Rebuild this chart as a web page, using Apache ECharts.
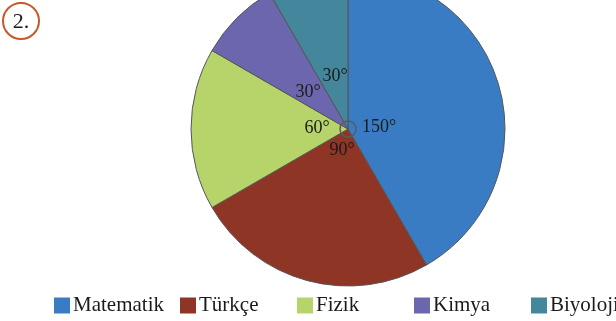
<!DOCTYPE html>
<html><head><meta charset="utf-8">
<script src="https://cdn.jsdelivr.net/npm/echarts@6/dist/echarts.min.js"></script>
<style>html,body{margin:0;padding:0;background:#fff}#c{width:616px;height:321px}</style>
</head><body><div id="c"></div>
<script>
const categories = ["Matematik", "Türkçe", "Fizik", "Kimya", "Biyoloji"];
const degrees = [150, 90, 60, 30, 30];
const degreeLabels = ["150°", "90°", "60°", "30°", "30°"];
const colors = ["#3a7cc4", "#8f3526", "#b7d46a", "#6c66ae", "#44869c"];

const font = "'Liberation Serif', 'DejaVu Serif', serif";
const cx = 348, cy = 129, R = 157;
// label anchor positions (pixel) for angle labels
const labelPos = [[379,127],[342,150],[317,128],[308,92],[335,76]];
const legendLeft = [54, 180, 297, 414, 531];

const chart = echarts.init(document.getElementById('c'));
const graphics = [
  {type:'circle', shape:{cx:21, cy:21, r:18}, style:{fill:'none', stroke:'#c55a28', lineWidth:2}},
  {type:'text', x:21, y:22, style:{text:'2.', font:"22px " + font, fill:'#1a1a1a', align:'center', verticalAlign:'middle'}},
  {type:'circle', shape:{cx:cx, cy:cy, r:8}, style:{fill:null, stroke:'#5a5a5a', lineWidth:1.5}, z:200, zlevel:1}
];
degreeLabels.forEach((t,i)=>{
  graphics.push({type:'text', x:labelPos[i][0], y:labelPos[i][1], z:100,
    style:{text:t, font:"18px " + font, fill:'#1a1a1a', align:'center', verticalAlign:'middle'}});
});

chart.setOption({
  animation:false,
  color: colors,
  legend: categories.map((c,i)=>({
    data:[c], left: legendLeft[i], top: 295, itemWidth:16, itemHeight:16, itemGap:0,
    icon:'rect', itemStyle:{borderWidth:0},
    textStyle:{fontFamily:font, fontSize:21, color:'#1a1a1a', padding:[0,0,0,-2]}, padding:0
  })),
  graphic: graphics,
  series:[{
    type:'pie', center:[cx,cy], radius:[0,R], startAngle:90, clockwise:true,
    label:{show:false}, labelLine:{show:false}, silent:true,
    itemStyle:{borderColor:'#555', borderWidth:1},
    data: categories.map((c,i)=>({name:c, value:degrees[i]}))
  }]
});
</script></body></html>
